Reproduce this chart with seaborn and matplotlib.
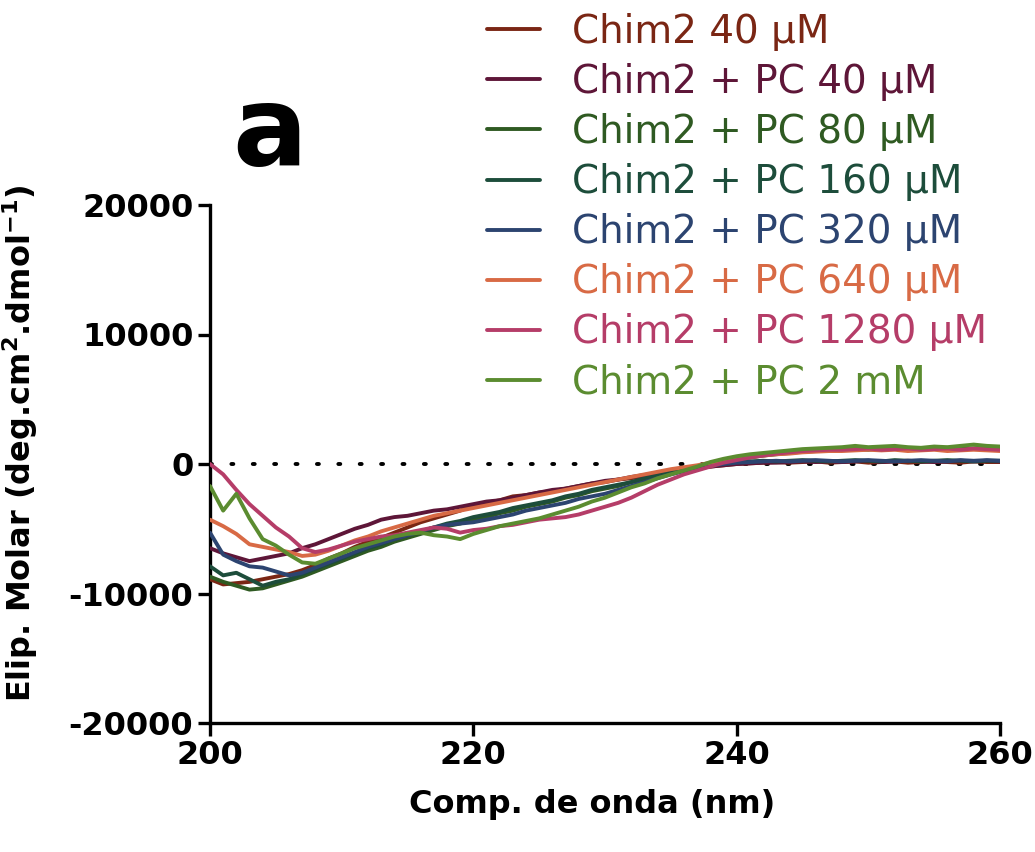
import numpy as np
import pandas as pd
import matplotlib
matplotlib.use("Agg")
import matplotlib.pyplot as plt
import seaborn as sns

# ---------------- data ----------------
wavelength = list(range(200, 261))

chim2_40 = [-8900, -9300, -9200, -9100, -8900, -8700, -8500, -8200, -7800, -7300,
            -6900, -6400, -6000, -5700, -5300, -4900, -4500, -4200, -3900, -3600,
            -3200, -3000, -2800, -2500, -2400, -2200, -2100, -1900, -1700, -1500,
            -1400, -1200, -1100, -900, -800, -650, -450, -350, -200, -100,
            0, 50, 100, 150, 100, 150, 200, 100, 150, 200,
            100, 150, 200, 100, 150, 200, 150, 100, 200, 150, 150]

pc_40 = [-6500, -6900, -7200, -7500, -7300, -7100, -6900, -6500, -6200, -5800,
         -5400, -5000, -4700, -4300, -4100, -4000, -3800, -3600, -3500, -3300,
         -3100, -2900, -2800, -2600, -2400, -2200, -2000, -1900, -1700, -1500,
         -1300, -1200, -1000, -850, -700, -550, -400, -300, -200, -100,
         0, 50, 100, 100, 150, 200, 150, 200, 150, 200,
         250, 150, 200, 250, 200, 150, 200, 250, 200, 250, 200]

pc_80 = [-8700, -9100, -9400, -9700, -9600, -9300, -9000, -8700, -8300, -7900,
         -7500, -7100, -6700, -6400, -6000, -5700, -5400, -5100, -4800, -4600,
         -4300, -4100, -3800, -3600, -3300, -3100, -2900, -2600, -2400, -2100,
         -1900, -1700, -1400, -1200, -950, -700, -500, -250, -50, 150,
         350, 500, 650, 750, 850, 950, 1000, 1050, 1100, 1150,
         1100, 1200, 1150, 1200, 1100, 1200, 1250, 1150, 1200, 1300, 1200]

pc_160 = [-7900, -8600, -8400, -8900, -9400, -9100, -8900, -8500, -8100, -7700,
          -7300, -6900, -6500, -6200, -5800, -5500, -5200, -4900, -4600, -4400,
          -4100, -3900, -3700, -3400, -3200, -3000, -2800, -2500, -2300, -2000,
          -1800, -1600, -1400, -1100, -900, -650, -450, -250, -100, 50,
          150, 200, 250, 200, 250, 300, 250, 200, 250, 300,
          250, 200, 300, 250, 200, 250, 300, 250, 200, 250, 250]

pc_320 = [-5300, -7000, -7500, -7900, -8000, -8300, -8600, -8400, -8000, -7600,
          -7200, -6800, -6400, -6100, -5800, -5500, -5200, -4900, -4700, -4600,
          -4500, -4300, -4100, -3900, -3600, -3400, -3200, -3000, -2700, -2500,
          -2300, -2000, -1700, -1400, -1100, -800, -550, -300, -150, 0,
          100, 150, 200, 250, 200, 250, 300, 250, 200, 250,
          300, 250, 200, 250, 300, 250, 200, 300, 250, 300, 250]

pc_640 = [-4300, -4800, -5400, -6200, -6400, -6600, -6800, -7100, -7000, -6700,
          -6300, -5900, -5600, -5200, -4900, -4600, -4300, -4000, -3800, -3600,
          -3400, -3200, -3000, -2800, -2600, -2400, -2200, -2000, -1800, -1600,
          -1400, -1200, -1000, -800, -600, -400, -250, -100, 100, 250,
          400, 550, 650, 750, 800, 900, 950, 1000, 1000, 1050,
          1100, 1050, 1100, 1000, 1050, 1100, 1000, 1050, 1100, 1050, 1000]

pc_1280 = [0, -800, -2000, -3100, -4000, -4900, -5600, -6500, -6800, -6600,
           -6300, -6000, -5800, -5600, -5500, -5300, -5100, -4900, -5000, -5300,
           -5100, -5000, -4800, -4700, -4500, -4300, -4200, -4100, -3900, -3600,
           -3300, -3000, -2600, -2100, -1600, -1200, -800, -500, -200, 100,
           300, 500, 650, 800, 900, 1000, 1050, 1100, 1100, 1150,
           1200, 1100, 1150, 1200, 1100, 1150, 1200, 1100, 1200, 1150, 1100]

pc_2mm = [-1700, -3600, -2300, -4200, -5800, -6300, -7000, -7600, -7700, -7300,
          -6900, -6500, -6200, -5900, -5600, -5400, -5300, -5500, -5600, -5800,
          -5400, -5100, -4800, -4600, -4400, -4200, -3900, -3600, -3300, -2900,
          -2600, -2200, -1800, -1500, -1100, -800, -500, -200, 150, 400,
          600, 750, 850, 950, 1050, 1150, 1200, 1250, 1300, 1400,
          1300, 1350, 1400, 1300, 1250, 1350, 1300, 1400, 1500, 1400, 1350]

labels = ["Chim2 40 \u03bcM", "Chim2 + PC 40 \u03bcM", "Chim2 + PC 80 \u03bcM",
          "Chim2 + PC 160 \u03bcM", "Chim2 + PC 320 \u03bcM", "Chim2 + PC 640 \u03bcM",
          "Chim2 + PC 1280 \u03bcM", "Chim2 + PC 2 mM"]
series = [chim2_40, pc_40, pc_80, pc_160, pc_320, pc_640, pc_1280, pc_2mm]
colors = ["#7a2614", "#5e1638", "#2f5a22", "#1d4d3b", "#2c4470",
          "#d86a45", "#b53d68", "#5b8c30"]

x_ticks = [200, 220, 240, 260]
y_ticks = [-20000, -10000, 0, 10000, 20000]

# ---------------- build table ----------------
frames = []
for lab, vals in zip(labels, series):
    frames.append(pd.DataFrame({"wavelength": wavelength, "value": vals, "sample": lab}))
df = pd.concat(frames, ignore_index=True)

sns.set_style("ticks")
plt.rcParams["font.family"] = ["DejaVu Sans"]
plt.rcParams["mathtext.fontset"] = "dejavusans"
plt.rcParams["mathtext.default"] = "bf"
plt.rcParams["text.color"] = "black"
plt.rcParams["axes.labelcolor"] = "black"
plt.rcParams["xtick.color"] = "black"
plt.rcParams["ytick.color"] = "black"

fig = plt.figure(figsize=(10.35, 8.52), dpi=100)
ax = fig.add_axes([210 / 1035, 1 - 723 / 852, 790 / 1035, 518 / 852])

sns.lineplot(data=df, x="wavelength", y="value", hue="sample", hue_order=labels,
             palette=dict(zip(labels, colors)), estimator=None, linewidth=2.8,
             legend=False, ax=ax, zorder=3)

handles = list(ax.get_lines())[:len(labels)]

ax.axhline(0, color="black", linewidth=2.8, dashes=(0.5, 5.0),
           dash_capstyle="round", zorder=1)

ax.set_xlim(200, 260)
ax.set_ylim(-20000, 20000)
ax.set_xticks(x_ticks)
ax.set_yticks(y_ticks)
ax.set_xticklabels([str(t) for t in x_ticks])
ax.set_yticklabels([str(t) for t in y_ticks])

for side in ["top", "right"]:
    ax.spines[side].set_visible(False)
for side in ["left", "bottom"]:
    ax.spines[side].set_linewidth(2.4)
    ax.spines[side].set_color("black")

ax.tick_params(axis="both", direction="out", length=9, width=2.4, colors="black",
               labelsize=23, pad=3)
for lab in ax.get_xticklabels() + ax.get_yticklabels():
    lab.set_fontweight("bold")
    lab.set_color("black")

ax.set_xlabel("Comp. de onda (nm)", fontsize=23, fontweight="bold", color="black")
ax.set_ylabel(r"Elip. Molar (deg.cm$^{2}$.dmol$^{-1}$)", fontsize=23,
              fontweight="bold", color="black")
ax.xaxis.set_label_coords(0.484, -0.128)
ax.yaxis.set_label_coords(-0.215, 0.54)

fig.text(232 / 1035, 1 - 165 / 852, "a", fontsize=80, fontweight="bold",
         ha="left", va="baseline", color="black")

leg = fig.legend(handles, labels, loc="upper left",
                 bbox_to_anchor=(487 / 1035, 1 - 13 / 852),
                 frameon=False, fontsize=28, labelcolor="linecolor",
                 handlelength=1.36, handletextpad=0.82, labelspacing=0.31,
                 borderpad=0, borderaxespad=0)
for line in leg.get_lines():
    line.set_linewidth(2.8)

fig.savefig("out.png", dpi=100)
